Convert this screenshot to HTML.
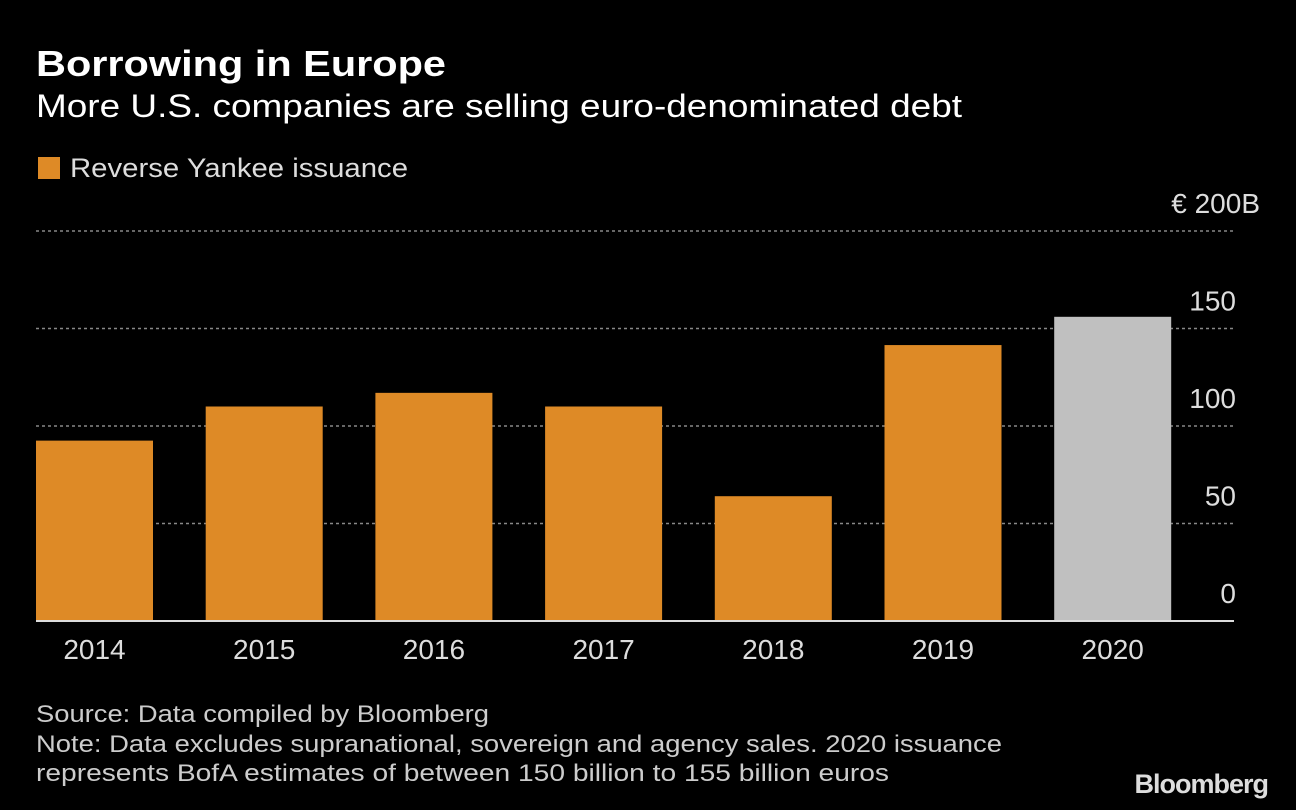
<!DOCTYPE html>
<html><head><meta charset="utf-8"><style>
body{margin:0;background:#000;width:1296px;height:810px;overflow:hidden;font-family:"Liberation Sans",sans-serif;color:#fff}
</style></head><body>
<svg width="1296" height="810" style="position:absolute;left:0;top:0">
<text x="36" y="76" font-size="36" font-weight="bold" fill="#fff" textLength="410" lengthAdjust="spacingAndGlyphs">Borrowing in Europe</text>
<text x="36" y="117" font-size="32" fill="#fff" textLength="926" lengthAdjust="spacingAndGlyphs">More U.S. companies are selling euro-denominated debt</text>
<rect x="38" y="157" width="22" height="22" fill="#de8a26"/>
<text x="70" y="177" font-size="27" fill="#ddd" textLength="338" lengthAdjust="spacingAndGlyphs">Reverse Yankee issuance</text>
<g id="grid"></g><g id="bars"></g><g id="xlabels"></g>
<line x1="36" y1="621" x2="1234" y2="621" stroke="#ddd" stroke-width="2"/>
<text x="36" y="722" font-size="24" fill="#ccc" textLength="453" lengthAdjust="spacingAndGlyphs">Source: Data compiled by Bloomberg</text>
<text x="36" y="752" font-size="24" fill="#ccc" textLength="966" lengthAdjust="spacingAndGlyphs">Note: Data excludes supranational, sovereign and agency sales. 2020 issuance</text>
<text x="36" y="781" font-size="24" fill="#ccc" textLength="853" lengthAdjust="spacingAndGlyphs">represents BofA estimates of between 150 billion to 155 billion euros</text>
<text x="1268" y="793" font-size="27" font-weight="bold" fill="#ddd" text-anchor="end" letter-spacing="-1">Bloomberg</text>
</svg>
<script>
const categories=["2014","2015","2016","2017","2018","2019","2020"];
const values=[92.5,110,117,110,64,141.5,156];
const estimated=[false,false,false,false,false,false,true];
const ticks=[0,50,100,150,200];
const tickLabels=["0","50","100","150","€ 200B"];
const NS="http://www.w3.org/2000/svg";
const y0=621,yTop=231,ymax=200;
const y=v=>y0-(v/ymax)*(y0-yTop);
const x=i=>36+i*169.7;
const bw=117;
const grid=document.getElementById('grid'),bars=document.getElementById('bars'),xl=document.getElementById('xlabels');
ticks.forEach((t,i)=>{
 if(t>0){const l=document.createElementNS(NS,'line');
 l.setAttribute('x1',36);l.setAttribute('x2',1234);l.setAttribute('y1',y(t));l.setAttribute('y2',y(t));
 l.setAttribute('stroke','#888');l.setAttribute('stroke-dasharray','3,3');l.setAttribute('stroke-width','1.5');
 
 
 grid.appendChild(l);}
 const tx=document.createElementNS(NS,'text');
 const last=i===ticks.length-1;
 tx.setAttribute('x',last?1260:1236);tx.setAttribute('y',y(t)-18);tx.setAttribute('text-anchor','end');
 tx.setAttribute('font-size','28');tx.setAttribute('fill','#ddd');tx.textContent=tickLabels[i];
 
 
 grid.appendChild(tx);
});
categories.forEach((c,i)=>{
 const r=document.createElementNS(NS,'rect');
 r.setAttribute('x',x(i));r.setAttribute('width',bw);r.setAttribute('y',y(values[i]));r.setAttribute('height',y0-y(values[i]));
 r.setAttribute('fill',estimated[i]?'#c0c0c0':'#de8a26');
 
 
 bars.appendChild(r);
 const t=document.createElementNS(NS,'text');
 t.setAttribute('x',x(i)+bw/2);t.setAttribute('y',659);t.setAttribute('text-anchor','middle');
 t.setAttribute('font-size','28');t.setAttribute('fill','#ddd');t.textContent=c;
 
 
 xl.appendChild(t);
});
</script>
</body></html>
